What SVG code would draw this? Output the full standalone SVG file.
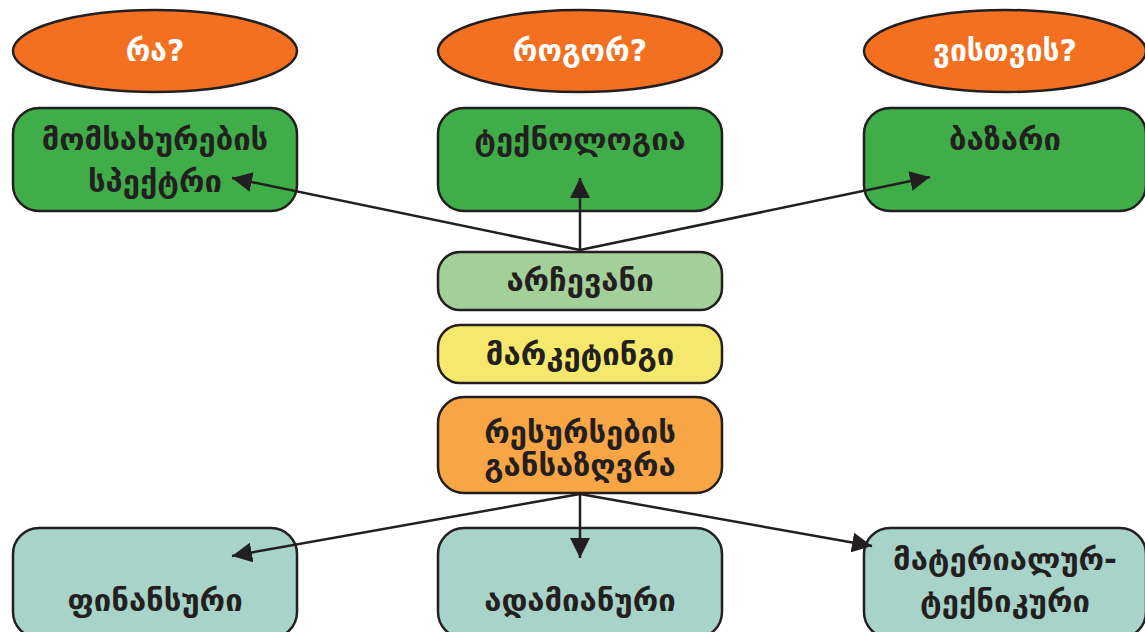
<svg xmlns="http://www.w3.org/2000/svg" width="1145" height="632" viewBox="0 0 1145 632">
<style>
.q{fill:#f37021;stroke:#231f20;stroke-width:2.5}
.g{fill:#3fae49;stroke:#231f20;stroke-width:2.5}
.lg{fill:#a3cf98;stroke:#231f20;stroke-width:2.5}
.y{fill:#f5e86c;stroke:#231f20;stroke-width:2.5}
.o{fill:#f8a546;stroke:#231f20;stroke-width:2.5}
.t{fill:#a8d3c8;stroke:#231f20;stroke-width:2.5}
text{font-family:"DejaVu Sans","Noto Sans",sans-serif;font-weight:bold;font-size:31px;text-anchor:middle;fill:#231f20}
.w{fill:#ffffff;font-size:30px}
.c{stroke:#231f20;stroke-width:2.5;fill:none;marker-end:url(#ah)}
</style>
<defs>
<marker id="ah" viewBox="0 0 10 10" refX="10" refY="5" markerWidth="8" markerHeight="8" orient="auto">
<path d="M0,0 L10,5 L0,10 z" fill="#231f20"/>
</marker>
</defs>
<g id="q1"><ellipse class="q" cx="155" cy="51" rx="142" ry="41"/><text class="w" x="155" y="61">რა?</text></g>
<g id="q2"><ellipse class="q" cx="580" cy="51" rx="142" ry="41"/><text class="w" x="580" y="61">როგორ?</text></g>
<g id="q3"><ellipse class="q" cx="1005" cy="51" rx="141" ry="41"/><text class="w" x="1005" y="61">ვისთვის?</text></g>
<g id="n1"><rect class="g" x="13" y="108" width="284" height="103" rx="26"/><text x="155" y="150">მომსახურების</text><text x="155" y="192">სპექტრი</text></g>
<g id="n2"><rect class="g" x="438" y="108" width="284" height="103" rx="26"/><text x="580" y="150">ტექნოლოგია</text></g>
<g id="n3"><rect class="g" x="864" y="108" width="282" height="103" rx="26"/><text x="1005" y="150">ბაზარი</text></g>
<g id="n4"><rect class="lg" x="438" y="252" width="284" height="58" rx="22"/><text x="580" y="291">არჩევანი</text></g>
<g id="n5"><rect class="y" x="438" y="325" width="284" height="58" rx="22"/><text x="580" y="365">მარკეტინგი</text></g>
<g id="n6"><rect class="o" x="438" y="397" width="284" height="96" rx="26"/><text x="580" y="443">რესურსების</text><text x="580" y="476">განსაზღვრა</text></g>
<g id="n7"><rect class="t" x="13" y="528" width="284" height="110" rx="26"/><text x="155" y="611">ფინანსური</text></g>
<g id="n8"><rect class="t" x="438" y="528" width="284" height="110" rx="26"/><text x="580" y="611">ადამიანური</text></g>
<g id="n9"><rect class="t" x="864" y="528" width="282" height="110" rx="26"/><text x="1005" y="570">მატერიალურ-</text><text x="1005" y="612">ტექნიკური</text></g>
<g id="connectors">
<line class="c" x1="580" y1="250" x2="232" y2="178"/>
<line class="c" x1="580" y1="250" x2="580" y2="178"/>
<line class="c" x1="580" y1="250" x2="930" y2="177"/>
<line class="c" x1="580" y1="494" x2="232" y2="556"/>
<line class="c" x1="580" y1="494" x2="580" y2="558"/>
<line class="c" x1="580" y1="494" x2="872" y2="546"/>
</g>
</svg>
